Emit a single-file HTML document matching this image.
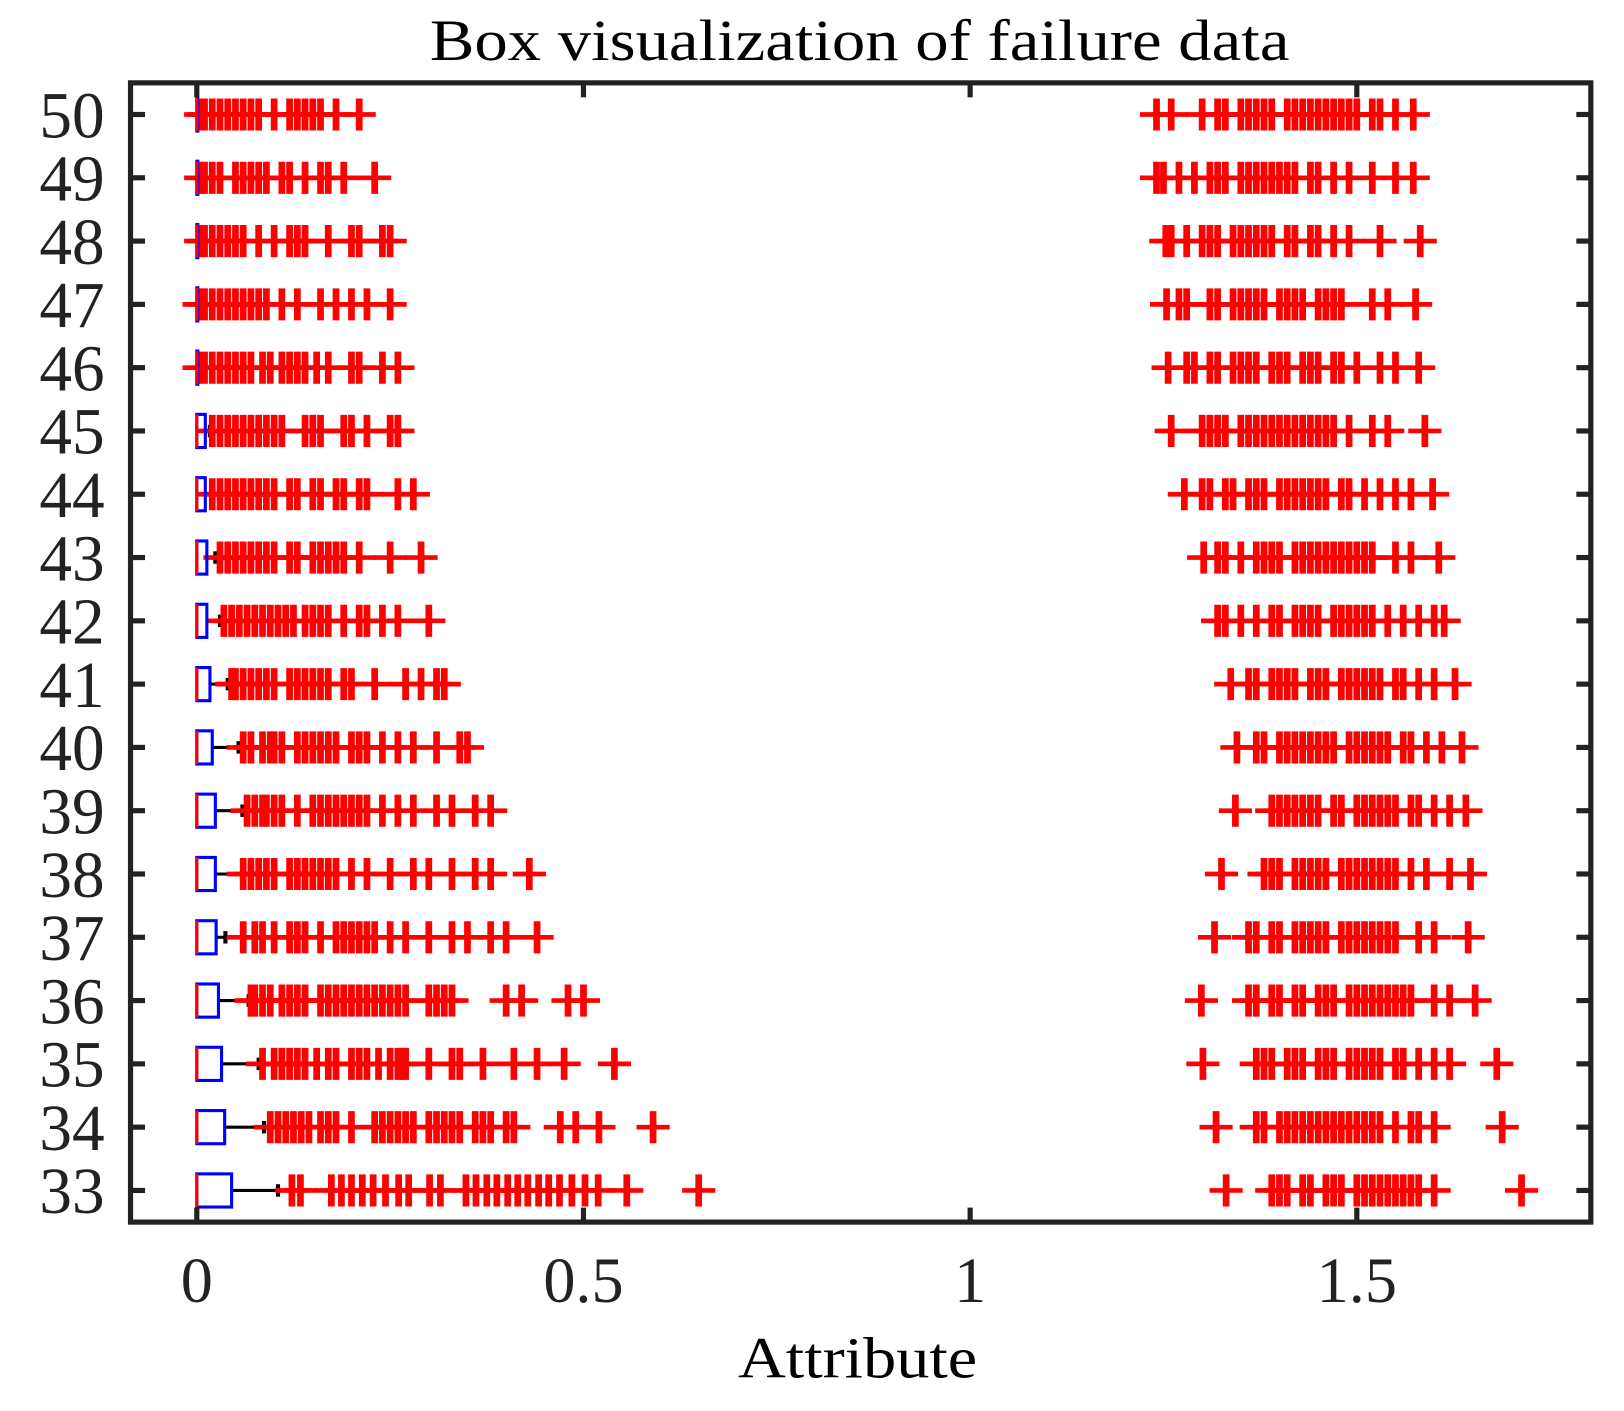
<!DOCTYPE html>
<html><head><meta charset="utf-8"><style>
html,body{margin:0;padding:0;background:#fff;}
svg{display:block;}
</style></head><body>
<svg id="chart" xmlns="http://www.w3.org/2000/svg" width="1624" height="1411" viewBox="0 0 1568 1362.4">
<rect x="0" y="0" width="1568" height="1362.4" fill="#fff"/>
<text x="830" y="58" text-anchor="middle" font-family="Liberation Serif, serif" font-size="56" textLength="830" lengthAdjust="spacingAndGlyphs" fill="#000">Box visualization of failure data</text>
<text x="828" y="1330" text-anchor="middle" font-family="Liberation Serif, serif" font-size="56" textLength="231" lengthAdjust="spacingAndGlyphs" fill="#000">Attribute</text>
<g id="marks"></g>
<g id="axes"></g>
</svg>
<script>
const categories=[33,34,35,36,37,38,39,40,41,42,43,44,45,46,47,48,49,50];
const q3Values=[0.045,0.036,0.032,0.028,0.025,0.024,0.024,0.020,0.017,0.013,0.013,0.011,0.011,0.001,0.001,0.001,0.001,0.001];
const whiskerValues=[0.105,0.087,0.080,0.067,0.037,0.060,0.059,0.054,0.040,0.030,0.024,0.020,0.017,0.002,0.002,0.002,0.002,0.002];
const xTicks=[0,0.5,1,1.5];
const xTickLabels=["0","0.5","1","1.5"];
const leftOutliers=[
[.123,.134,.174,.187,.2,.214,.228,.244,.261,.274,.301,.315,.348,.361,.375,.388,.402,.415,.428,.442,.455,.469,.485,.502,.519,.556,.649],
[.095,.105,.115,.125,.135,.145,.16,.17,.18,.2,.23,.24,.25,.26,.27,.28,.3,.31,.32,.33,.34,.36,.37,.38,.40,.41,.47,.49,.52,.59],
[.085,.1,.11,.12,.13,.14,.155,.17,.18,.2,.21,.22,.235,.25,.26,.265,.27,.3,.33,.34,.37,.41,.44,.475,.54],
[.07,.075,.085,.095,.11,.12,.13,.14,.16,.17,.18,.19,.2,.21,.22,.23,.24,.25,.26,.27,.3,.31,.32,.33,.4,.42,.48,.5],
[.06,.075,.085,.1,.12,.13,.14,.16,.18,.19,.2,.21,.22,.23,.25,.27,.3,.33,.35,.38,.4,.44],
[.06,.07,.08,.09,.1,.12,.13,.14,.15,.16,.17,.18,.2,.22,.25,.28,.3,.33,.36,.38,.43],
[.065,.075,.085,.09,.1,.11,.13,.15,.16,.17,.18,.19,.2,.21,.22,.24,.26,.28,.31,.33,.36,.38],
[.06,.07,.085,.095,.1,.11,.13,.14,.15,.16,.17,.18,.2,.21,.22,.24,.26,.28,.31,.34,.35],
[.045,.05,.06,.07,.08,.09,.1,.12,.13,.14,.15,.16,.17,.19,.2,.23,.27,.29,.31,.32],
[.035,.045,.055,.065,.075,.085,.095,.105,.115,.125,.14,.15,.16,.17,.19,.21,.22,.24,.26,.3],
[.03,.04,.05,.06,.07,.08,.09,.1,.12,.13,.15,.16,.17,.18,.19,.21,.25,.29],
[.02,.03,.04,.05,.06,.07,.08,.09,.1,.12,.13,.15,.16,.18,.19,.21,.22,.26,.28],
[.02,.03,.04,.05,.06,.07,.08,.09,.1,.11,.14,.15,.16,.19,.2,.22,.25,.26],
[.003,.01,.02,.03,.04,.05,.06,.07,.085,.095,.11,.12,.13,.14,.155,.17,.2,.21,.24,.26],
[.003,.01,.02,.03,.04,.05,.06,.07,.08,.09,.11,.13,.16,.18,.2,.22,.25],
[.005,.01,.02,.03,.04,.05,.06,.08,.1,.12,.13,.14,.17,.2,.21,.24,.25],
[.005,.01,.02,.03,.05,.06,.07,.08,.09,.11,.12,.14,.16,.17,.19,.23],
[.005,.01,.02,.03,.04,.05,.06,.07,.08,.1,.12,.13,.14,.15,.16,.18,.21]];
const rightOutliers=[
[1.331,1.39,1.4,1.41,1.43,1.44,1.46,1.47,1.48,1.5,1.51,1.52,1.53,1.54,1.55,1.56,1.57,1.58,1.6,1.713],
[1.318,1.37,1.38,1.4,1.41,1.42,1.43,1.44,1.45,1.46,1.47,1.48,1.49,1.5,1.51,1.52,1.53,1.55,1.57,1.58,1.6,1.688],
[1.301,1.37,1.38,1.39,1.41,1.42,1.43,1.45,1.46,1.47,1.49,1.5,1.51,1.52,1.53,1.55,1.56,1.58,1.6,1.62,1.681],
[1.299,1.36,1.37,1.39,1.4,1.42,1.43,1.45,1.46,1.47,1.49,1.5,1.51,1.52,1.53,1.54,1.55,1.56,1.57,1.6,1.62,1.653],
[1.316,1.36,1.37,1.39,1.4,1.42,1.43,1.44,1.45,1.46,1.48,1.49,1.5,1.51,1.52,1.53,1.54,1.55,1.58,1.6,1.644],
[1.325,1.38,1.39,1.4,1.42,1.43,1.44,1.45,1.46,1.48,1.49,1.5,1.51,1.52,1.53,1.54,1.55,1.57,1.59,1.62,1.647],
[1.343,1.39,1.4,1.41,1.42,1.43,1.44,1.45,1.47,1.48,1.5,1.51,1.52,1.53,1.54,1.55,1.57,1.58,1.6,1.62,1.641],
[1.345,1.37,1.38,1.4,1.41,1.42,1.43,1.44,1.45,1.46,1.47,1.49,1.5,1.51,1.52,1.53,1.54,1.56,1.57,1.59,1.61,1.636],
[1.337,1.36,1.37,1.39,1.4,1.41,1.42,1.44,1.45,1.46,1.48,1.49,1.5,1.51,1.52,1.53,1.55,1.56,1.58,1.6,1.627],
[1.32,1.33,1.35,1.37,1.39,1.4,1.42,1.43,1.44,1.45,1.47,1.48,1.49,1.5,1.51,1.52,1.54,1.56,1.58,1.6,1.613],
[1.302,1.32,1.33,1.35,1.37,1.38,1.39,1.4,1.42,1.43,1.44,1.45,1.46,1.47,1.48,1.49,1.5,1.51,1.52,1.55,1.57,1.606],
[1.277,1.3,1.31,1.33,1.34,1.36,1.37,1.38,1.4,1.41,1.42,1.43,1.44,1.45,1.46,1.48,1.49,1.51,1.53,1.55,1.57,1.598],
[1.26,1.3,1.31,1.32,1.33,1.35,1.36,1.37,1.38,1.39,1.4,1.41,1.42,1.43,1.44,1.45,1.46,1.47,1.49,1.52,1.54,1.588],
[1.256,1.28,1.29,1.31,1.32,1.34,1.35,1.36,1.37,1.39,1.4,1.41,1.43,1.44,1.45,1.47,1.48,1.5,1.53,1.55,1.58],
[1.254,1.27,1.28,1.31,1.32,1.34,1.35,1.36,1.37,1.38,1.4,1.41,1.42,1.43,1.45,1.46,1.47,1.48,1.52,1.54,1.576],
[1.253,1.26,1.28,1.3,1.31,1.32,1.34,1.35,1.36,1.37,1.38,1.39,1.41,1.42,1.44,1.45,1.47,1.49,1.53,1.582],
[1.241,1.25,1.27,1.29,1.31,1.32,1.33,1.35,1.36,1.37,1.38,1.39,1.4,1.41,1.42,1.44,1.45,1.47,1.49,1.52,1.55,1.573],
[1.241,1.26,1.3,1.32,1.33,1.35,1.36,1.37,1.38,1.39,1.41,1.42,1.43,1.44,1.45,1.46,1.47,1.48,1.49,1.5,1.52,1.53,1.55,1.573]];

const NS="http://www.w3.org/2000/svg";
const plot={l:126,r:1536,t:80,b:1180};
const xMin=-0.0857,xMax=1.8026,yMin=32.5,yMax=50.5;
function xs(v){return plot.l+(v-xMin)/(xMax-xMin)*(plot.r-plot.l);}
function ys(v){return plot.b-(v-yMin)/(yMax-yMin)*(plot.b-plot.t);}
function mk(tag,attrs,parent){const e=document.createElementNS(NS,tag);for(const k in attrs)e.setAttribute(k,attrs[k]);parent.appendChild(e);return e;}
const marks=document.getElementById('marks');
const axes=document.getElementById('axes');
const HB=16, PW=16, PH=15.5;

categories.forEach((c,i)=>{
  const y=ys(c);
  const g=mk('g',{},marks);
  
  
  const w=mk('line',{x1:xs(q3Values[i]),x2:xs(whiskerValues[i]),y1:y,y2:y,stroke:'#000','stroke-width':3},g);
  
  
  const cap=mk('line',{x1:xs(whiskerValues[i]),x2:xs(whiskerValues[i]),y1:y-6,y2:y+6,stroke:'#000','stroke-width':4},g);
  
  
  const all=leftOutliers[i].concat(rightOutliers[i]);
  all.forEach(v=>{
    const x=xs(v);
    const p=mk('g',{},g);
    
    
    mk('line',{x1:x-PW,x2:x+PW,y1:y,y2:y,stroke:'#ff0000','stroke-width':4.5},p);
    mk('line',{x1:x,x2:x,y1:y-PH,y2:y+PH,stroke:'#ff0000','stroke-width':6.5},p);
  });
  const b=mk('rect',{x:xs(0),y:y-HB,width:Math.max(1,xs(q3Values[i])-xs(0)),height:2*HB,fill:'none',stroke:'#0000ff','stroke-width':3},g);
  
  
  const m=mk('line',{x1:xs(0),x2:xs(0),y1:y-HB,y2:y+HB,stroke:'#ff0000','stroke-width':3},g);
  
  
  const tl=mk('line',{x1:plot.l,x2:plot.l+14,y1:y,y2:y,stroke:'#222','stroke-width':5},axes);
  
  
  const tr=mk('line',{x1:plot.r-14,x2:plot.r,y1:y,y2:y,stroke:'#222','stroke-width':5},axes);
  
  
  const lab=mk('text',{x:101,y:y+22,'text-anchor':'end','font-family':'Liberation Serif, serif','font-size':63,fill:'#222'},axes);
  lab.textContent=c;
  
  
});
xTicks.forEach((v,i)=>{
  const x=xs(v);
  const a=mk('line',{x1:x,x2:x,y1:plot.b,y2:plot.b-14,stroke:'#222','stroke-width':5},axes);
  
  
  const b=mk('line',{x1:x,x2:x,y1:plot.t,y2:plot.t+14,stroke:'#222','stroke-width':5},axes);
  
  
  const t=mk('text',{x:x,y:1257,'text-anchor':'middle','font-family':'Liberation Serif, serif','font-size':62,fill:'#222'},axes);
  t.textContent=xTickLabels[i];
  
  
});
const frame=mk('rect',{x:plot.l,y:plot.t,width:plot.r-plot.l,height:plot.b-plot.t,fill:'none',stroke:'#222','stroke-width':5},axes);


</script>
</body></html>
